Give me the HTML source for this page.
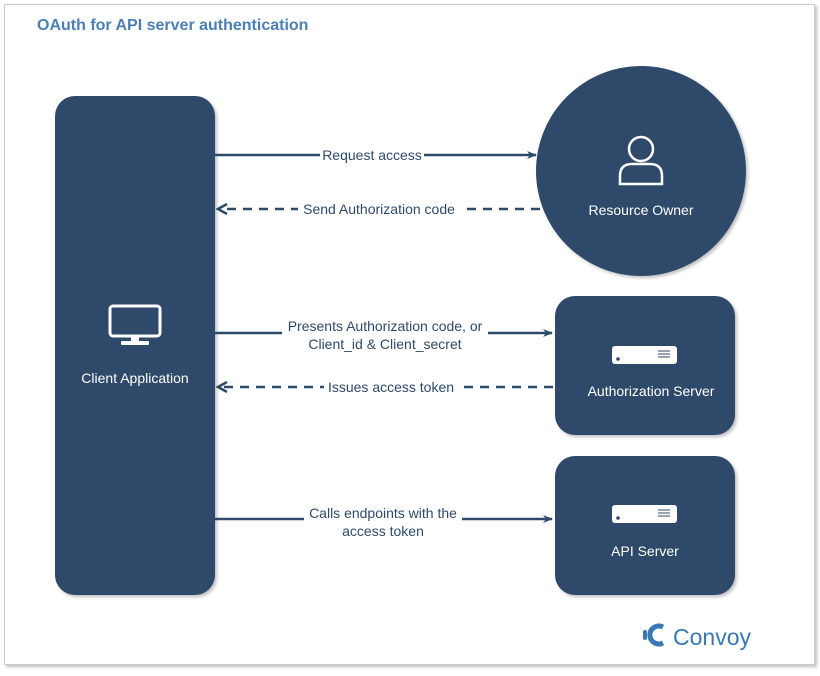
<!DOCTYPE html>
<html><head><style>
body{margin:0;background:#fff;}
svg text{font-family:"Liberation Sans",sans-serif;}
</style></head><body>
<svg width="820" height="671" viewBox="0 0 820 671" xmlns="http://www.w3.org/2000/svg">
<defs>
<filter id="sh" x="-10%" y="-10%" width="130%" height="130%"><feDropShadow dx="2" dy="2" stdDeviation="1.5" flood-color="#000" flood-opacity="0.25"/></filter>
<marker id="ar" markerWidth="10" markerHeight="10" refX="9" refY="5" orient="auto" markerUnits="userSpaceOnUse"><path d="M0,1 L10,5 L0,9 L3,5 Z" fill="#2f4a69"/></marker>
<marker id="al" markerWidth="12" markerHeight="12" refX="10" refY="6" orient="auto" markerUnits="userSpaceOnUse"><path d="M1,1 L10,6 L1,11" fill="none" stroke="#2f4a69" stroke-width="2.5"/></marker>
</defs>
<rect x="4.5" y="4.5" width="810" height="660" fill="#fff" stroke="#ccc" filter="url(#sh)"/>
<text x="37" y="30" font-size="16" font-weight="bold" fill="#4a7fb5">OAuth for API server authentication</text>
<g fill="#2f4a69" filter="url(#sh)">
<rect x="55" y="96" width="160" height="499" rx="20"/>
<circle cx="641" cy="171" r="105"/>
<rect x="555" y="296" width="180" height="139" rx="20"/>
<rect x="555" y="456" width="180" height="139" rx="20"/>
</g>
<g stroke="#2f4a69" stroke-width="2.5" fill="none">
<line x1="215" y1="155" x2="536" y2="155" marker-end="url(#ar)"/>
<line x1="540" y1="209" x2="218" y2="209" stroke-dasharray="9,7" marker-end="url(#al)"/>
<line x1="215" y1="333" x2="552" y2="333" marker-end="url(#ar)"/>
<line x1="553" y1="387" x2="218" y2="387" stroke-dasharray="9,7" marker-end="url(#al)"/>
<line x1="215" y1="519" x2="552" y2="519" marker-end="url(#ar)"/>
</g>
<g font-size="14" fill="#2f4a69" text-anchor="middle">
<rect x="320" y="146" width="104" height="18" fill="#fff"/>
<text x="372" y="160">Request access</text>
<rect x="298" y="200" width="162" height="18" fill="#fff"/>
<text x="379" y="214">Send Authorization code</text>
<rect x="282" y="318" width="206" height="34" fill="#fff"/>
<text x="385" y="331">Presents Authorization code, or</text>
<text x="385" y="349">Client_id &amp; Client_secret</text>
<rect x="324" y="378" width="134" height="18" fill="#fff"/>
<text x="391" y="392">Issues access token</text>
<rect x="304" y="505" width="158" height="34" fill="#fff"/>
<text x="383" y="518">Calls endpoints with the</text>
<text x="383" y="536">access token</text>
</g>
<g font-size="14" fill="#fff" text-anchor="middle">
<text x="135" y="383">Client Application</text>
<text x="641" y="215">Resource Owner</text>
<text x="651" y="396">Authorization Server</text>
<text x="645" y="556">API Server</text>
</g>
<g fill="none" stroke="#fff" stroke-width="3">
<rect x="110" y="306" width="50" height="30" rx="3"/>
</g>
<rect x="131" y="336" width="8" height="6" fill="#fff"/>
<rect x="121" y="341" width="28" height="4" rx="1" fill="#fff"/>
<g fill="none" stroke="#fff" stroke-width="2.5">
<circle cx="641" cy="149" r="12"/>
<path d="M620,184 V176 Q620,164 632,164 H650 Q662,164 662,176 V184 Z"/>
</g>
<g>
<rect x="612" y="346" width="65" height="18" rx="3" fill="#fff"/>
<circle cx="618" cy="359" r="1.8" fill="#2f4a69"/>
<path d="M658,351h12M658,354h12M658,357h12" stroke="#2f4a69" stroke-width="1"/>
<rect x="612" y="505" width="65" height="18" rx="3" fill="#fff"/>
<circle cx="618" cy="518" r="1.8" fill="#2f4a69"/>
<path d="M658,510h12M658,513h12M658,516h12" stroke="#2f4a69" stroke-width="1"/>
</g>
<g fill="none" stroke="#3a78b5" stroke-width="5">
<path d="M663,627 A9,9 0 1 0 663,643"/>
</g>
<rect x="643" y="630" width="4" height="10" rx="2" fill="#3a78b5"/>
<text x="673" y="645" font-size="23" fill="#3a78b5">Convoy</text>
</svg>
</body></html>
